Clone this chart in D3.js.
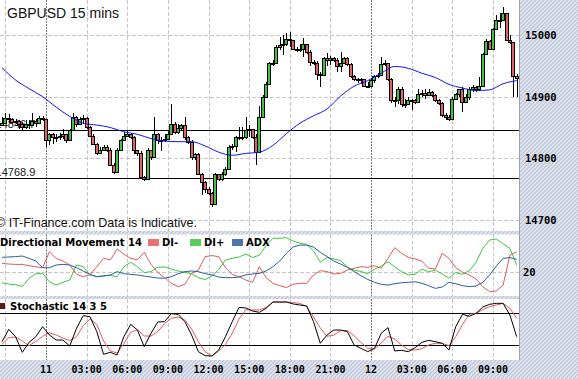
<!DOCTYPE html>
<html>
<head>
<meta charset="utf-8">
<script src="https://cdn.jsdelivr.net/npm/d3@7"></script>
<style>
  body { margin: 0; background: #fff; }
  svg { display: block; }
</style>
</head>
<body>
<svg id="chart" width="578" height="379"></svg>
<script>
// 15 minute bars, first bar at 20:45 on the 10th
const startTime = Date.UTC(2010, 4, 10, 20, 45);
const barMs = 15 * 60 * 1000;
const firstOpen = 14854;

const closes = [14857,14866,14863,14859,14861,14855,14851,14856,14854,14861,14857,14866,14864,
  14829,14840,14834,14835,14836,14840,14829,14846,14867,14855,14863,14866,14851,14837,14824,14808,14813,14818,14813,14790,
  14778,14814,14829,14837,14840,14835,14813,14809,14770,14767,14813,14802,14840,14829,14829,14832,14840,14855,14843,14850,
  14854,14834,14827,14802,14807,14775,14762,14751,14743,14726,14774,14767,14774,14783,14818,14820,14835,14834,14835,14846,
  14847,14835,14810,14867,
  14900,14921,14954,14955,14981,14984,14985,14993,14992,14977,14976,14977,14985,14973,14957,14955,14937,14935,14962,14960,
  14962,14959,14949,14954,14962,14953,14933,14928,14927,14928,14917,14917,14927,14933,14935,14953,14954,14928,14895,14895,
  14913,14888,14888,14895,14894,14892,14905,14906,14902,14908,14902,14895,14889,14870,14867,14863,14897,14904,14912,14892,
  14899,14912,14915,14912,14917,14969,14991,14978,15009,15025,15024,15035,14992,14989,14933,14931];

const highs = [14867,14873,14872,14866,14864,14862,14859,14862,14862,14873,14864,14868,14868,
  14861,14841,14841,14840,14841,14847,14840,14847,14873,14868,14867,14870,14867,14852,14840,14825,14818,14821,14821,14816,
  14792,14816,14832,14843,14846,14841,14837,14814,14812,14772,14816,14813,14867,14841,14835,14840,14846,14888,14859,14856,
  14856,14867,14837,14829,14809,14809,14776,14764,14753,14745,14776,14775,14778,14786,14821,14823,14837,14851,14851,14867,
  14854,14840,14840,14885,
  14902,14924,14957,14959,14984,14996,15000,15003,15005,14991,14981,14986,14995,14986,14975,14959,14958,14940,14964,14971,
  14966,14964,14962,14973,14965,14964,14954,14935,14931,14931,14928,14924,14931,14935,14938,14965,14959,14955,14930,14900,
  14916,14915,14897,14899,14897,14897,14912,14911,14912,14912,14909,14905,14897,14892,14873,14870,14900,14906,14913,14915,
  14905,14916,14919,14917,14932,14971,14993,14992,15011,15033,15035,15046,15036,15000,14989,14937];

const lows = [14852,14855,14857,14855,14856,14848,14846,14848,14848,14852,14851,14856,14861,
  14818,14821,14823,14827,14829,14832,14825,14828,14844,14851,14854,14855,14848,14835,14821,14805,14807,14812,14810,14789,
  14775,14776,14813,14828,14836,14832,14807,14803,14767,14764,14765,14797,14801,14823,14812,14827,14829,14840,14840,14840,
  14844,14830,14823,14798,14797,14774,14740,14743,14740,14721,14724,14764,14764,14771,14782,14813,14810,14830,14829,14832,
  14834,14832,14789,14810,
  14870,14899,14920,14950,14953,14976,14967,14982,14981,14975,14973,14973,14965,14970,14949,14951,14927,14916,14933,14949,
  14951,14957,14940,14940,14953,14950,14931,14926,14922,14921,14915,14915,14921,14922,14930,14933,14949,14926,14889,14883,
  14888,14883,14881,14886,14878,14888,14889,14900,14897,14901,14900,14892,14886,14867,14862,14861,14862,14894,14899,14875,
  14889,14894,14908,14908,14909,14915,14967,14977,14977,15008,15011,15023,14991,14986,14900,14900];

// moving average, one value per hour (every 4th bar)
const maValues = [14947,14927,14913,14900,14883,14868,14857,14854,14850,14843,14839,14832,14828,14827,14827,14820,
  14810,14805,14808,14810,14821,14840,14857,14869,14880,14901,14917,14926,14938,14949,14946,14938,14931,14920,
  14914,14910,14911,14921,14926];

// directional movement 14, one value every 2nd bar
const diMinus = [24.4,24.1,23.9,23.9,23.2,22.7,22.2,30.4,27.0,25.6,23.6,18.8,17.6,18.5,22.7,27.0,26.2,31.8,29.1,27.0,
  26.3,30.1,23.9,19.8,17.1,14.2,12.5,13.7,19.3,21.0,27.9,28.4,27.9,22.2,18.8,17.6,15.9,14.7,22.7,17.1,14.2,13.0,12.0,
  13.7,14.2,14.2,18.5,20.7,20.2,19.0,19.3,21.0,21.9,22.7,22.4,23.2,21.9,27.0,32.5,29.6,27.5,26.7,25.6,21.9,21.5,29.6,
  27.0,22.2,19.8,18.5,16.4,12.5,9.9,10.3,13.3,28.7,30.4];
const diPlus = [14.5,13.8,13.5,12.6,16.8,19.1,19.3,15.0,13.3,14.7,15.9,23.6,22.7,18.5,17.6,18.1,18.3,17.6,22.7,25.0,
  22.7,19.7,20.2,22.4,22.6,21.5,20.5,19.8,19.1,17.1,16.1,18.1,21.2,26.2,27.0,27.7,29.2,27.4,28.7,33.5,37.3,37.3,37.6,
  35.9,34.7,34.2,30.8,25.0,27.4,26.7,25.8,22.6,20.9,20.3,19.1,21.4,23.1,25.3,22.6,20.2,18.5,18.8,21.4,20.2,20.9,19.0,
  16.8,19.7,18.8,20.7,25.0,32.1,36.4,36.9,34.5,32.1,23.6];
const adx = [27.5,27.7,27.9,28.2,27.0,25.6,22.2,22.2,23.6,23.9,23.6,22.2,20.5,18.8,17.6,17.9,18.5,20.2,19.1,18.8,
  18.5,17.9,17.4,16.9,16.8,17.6,19.1,20.2,20.5,20.2,19.1,18.5,17.4,17.1,17.1,17.4,18.5,19.0,19.3,20.5,22.7,25.6,29.6,
  32.8,33.8,33.8,32.8,30.1,27.9,25.6,24.1,22.4,20.2,18.1,16.2,14.7,13.7,13.3,14.0,14.5,14.7,15.0,14.2,13.0,11.6,12.3,
  14.7,14.0,13.0,12.5,12.8,14.7,18.5,23.1,27.0,27.4,26.5];

// stochastic 14 3 5, one value every 2nd bar
const stochK = [26.5,49.4,35.8,6.8,25.3,35.8,54.3,38.9,29.6,29.6,18.5,51.2,74.7,72.8,45.1,3.1,6.8,1.9,35.8,58.6,
  48.1,17.3,42.0,63.0,63.6,78.4,77.2,63.6,38.9,8.0,0.6,0,11.1,35.8,63.6,90.1,88.9,83.3,80.9,88.3,100,100,100,
  96.3,94.4,92.6,63.6,23.5,38.9,48.1,48.1,45.1,20.4,14.2,8.0,14.2,42.0,52.5,9.3,10.5,8.0,15.4,25.3,29.0,26.5,23.5,
  11.1,54.3,77.2,73.5,79.0,90.7,95.7,97.5,97.5,75.9,35.8];
const stochD = [21.6,34.0,35.2,27.8,19.1,27.2,36.4,43.2,38.9,33.3,28.4,35.8,56.2,68.5,58.6,27.8,9.3,5.6,22.8,43.8,
  48.8,37.0,37.0,45.1,59.9,69.8,72.2,66.7,50.0,26.5,8.0,0,9.3,21.6,42.0,68.5,85.8,85.2,85.2,90.1,100,100,100,
  98.8,97.5,91.4,72.2,51.9,36.4,38.9,46.9,47.5,37.0,25.3,14.2,13.0,24.1,36.4,31.5,20.4,11.7,11.1,13.6,20.4,23.5,23.5,
  19.1,35.8,58.6,77.2,79.0,85.8,91.4,94.4,97.5,88.3,69.8];

const priceTicks = [14700, 14800, 14900, 15000];
const priceLines = [14846.7, 14768.9];
const dmTicks = [20];
const stochLevels = [20, 80];

const plotRight = 519;
const panelMain = {top: 0, bottom: 231};
const panelDM = {top: 234.5, bottom: 296};
const panelStoch = {top: 299, bottom: 360};

const svg = d3.select('#chart');
const px = v => Math.round(v) + 0.5;

// scales
const x = d3.scaleUtc()
  .domain([new Date(startTime), new Date(startTime + 152 * barMs)])
  .range([2, 2 + 152 * 3.386]);
const yPrice = d3.scaleLinear().domain([14700, 15000]).range([220, 35]);
const yDM = d3.scaleLinear().domain([20, 40]).range([272, 233]);
const yStoch = d3.scaleLinear().domain([0, 100]).range([356, 302]);

const bars = closes.map((c, i) => {
  const open = i ? closes[i - 1] : firstOpen;
  return {
    time: new Date(startTime + i * barMs),
    open: open,
    close: c,
    high: Math.max(highs[i], open, c),
    low: Math.min(lows[i], open, c)
  };
});
const hourly = maValues.map((v, i) => ({time: new Date(startTime + i * 4 * barMs), value: v}));
const every2 = arr => arr.map((v, i) => ({time: new Date(startTime + i * 2 * barMs), value: v}));

// defs: hatch pattern + clips
const defs = svg.append('defs');
const hatch = defs.append('pattern')
  .attr('id', 'hatch')
  .attr('width', 4).attr('height', 4)
  .attr('patternUnits', 'userSpaceOnUse');
hatch.append('rect').attr('width', 4).attr('height', 4).attr('fill', '#e2e5ee');
hatch.append('path')
  .attr('d', 'M-1,1 l2,-2 M0,4 l4,-4 M3,5 l2,-2')
  .attr('stroke', '#b8c1d6')
  .attr('stroke-width', 1.2);

[['clipMain', panelMain], ['clipDM', panelDM], ['clipStoch', panelStoch]].forEach(([id, p]) => {
  defs.append('clipPath').attr('id', id)
    .append('rect')
    .attr('x', 0).attr('y', p.top)
    .attr('width', plotRight).attr('height', p.bottom - p.top);
});

// background
svg.append('rect').attr('width', 578).attr('height', 379).attr('fill', '#fff');
svg.append('rect').attr('x', plotRight).attr('y', 0).attr('width', 578 - plotRight).attr('height', 379).attr('fill', 'url(#hatch)');
svg.append('rect').attr('x', 0).attr('y', panelStoch.bottom).attr('width', 578).attr('height', 379 - panelStoch.bottom).attr('fill', 'url(#hatch)');
svg.append('rect').attr('x', 0).attr('y', panelMain.bottom).attr('width', plotRight).attr('height', panelDM.top - panelMain.bottom).attr('fill', 'url(#hatch)');
svg.append('rect').attr('x', 0).attr('y', panelDM.bottom).attr('width', plotRight).attr('height', panelStoch.top - panelDM.bottom).attr('fill', 'url(#hatch)');
svg.append('line')
  .attr('x1', plotRight + 0.5).attr('x2', plotRight + 0.5)
  .attr('y1', 0).attr('y2', panelStoch.bottom)
  .attr('stroke', '#9aa0ac');

// vertical grid, every 3 hours
const hourTicks = x.ticks(d3.utcHour.every(3));
const isDay = d => d.getUTCHours() === 0;

function gridX(p) {
  svg.append('g')
    .selectAll('line')
    .data(hourTicks)
    .join('line')
      .attr('x1', d => px(x(d))).attr('x2', d => px(x(d)))
      .attr('y1', p.top).attr('y2', p.bottom)
      .attr('stroke', d => isDay(d) ? '#777' : '#c6c6c6')
      .attr('stroke-dasharray', d => isDay(d) ? '2,1' : '4,2');
}
gridX(panelMain);
gridX(panelDM);
gridX(panelStoch);

function gridY(values, scale, colour, dash) {
  svg.append('g')
    .selectAll('line')
    .data(values)
    .join('line')
      .attr('x1', 0).attr('x2', plotRight)
      .attr('y1', d => px(scale(d))).attr('y2', d => px(scale(d)))
      .attr('stroke', colour)
      .attr('stroke-dasharray', dash);
}
gridY(priceTicks, yPrice, '#c6c6c6', '4,2');
gridY(dmTicks, yDM, '#c6c6c6', '4,2');
gridY(stochLevels, yStoch, '#000', null);

// ---- price panel ----
const mainArea = svg.append('g').attr('clip-path', 'url(#clipMain)');

mainArea.selectAll('text.lvl')
  .data(priceLines)
  .join('text')
    .attr('class', 'lvl')
    .attr('x', -4.4)
    .attr('y', d => Math.round(yPrice(d)) - 2)
    .style('font-family', 'Liberation Sans, Arial, sans-serif')
    .style('font-size', '11px')
    .attr('fill', '#222')
    .text(d => d.toFixed(1));

mainArea.selectAll('line.lvl')
  .data(priceLines)
  .join('line')
    .attr('class', 'lvl')
    .attr('x1', 0).attr('x2', plotRight)
    .attr('y1', d => px(yPrice(d))).attr('y2', d => px(yPrice(d)))
    .attr('stroke', '#000');

const candles = mainArea.append('g')
  .attr('shape-rendering', 'crispEdges')
  .selectAll('g')
  .data(bars)
  .join('g');

candles.append('line')
  .attr('x1', d => Math.round(x(d.time)) + 0.5)
  .attr('x2', d => Math.round(x(d.time)) + 0.5)
  .attr('y1', d => Math.round(yPrice(d.high)))
  .attr('y2', d => Math.round(yPrice(d.low)))
  .attr('stroke', '#000');

candles.append('rect')
  .attr('x', d => Math.round(x(d.time)) - 1.5)
  .attr('width', 3)
  .attr('y', d => Math.round(yPrice(Math.max(d.open, d.close))) + 0.5)
  .attr('height', d => Math.max(1, Math.round(yPrice(Math.min(d.open, d.close))) - Math.round(yPrice(Math.max(d.open, d.close)))))
  .attr('fill', d => d.close >= d.open ? '#3fc43f' : '#e06464')
  .attr('stroke', '#000');

const maLine = d3.line()
  .x(d => x(d.time))
  .y(d => yPrice(d.value))
  .curve(d3.curveMonotoneX);

mainArea.append('path')
  .datum(hourly)
  .attr('d', maLine)
  .attr('fill', 'none')
  .attr('stroke', '#0a14ff')
  .attr('stroke-width', 1);

svg.append('text')
  .attr('x', 7).attr('y', 18)
  .style('font-family', 'Liberation Sans, Arial, sans-serif')
  .style('font-size', '14px')
  .attr('fill', '#111')
  .text('GBPUSD 15 mins');

svg.append('text')
  .attr('x', -4).attr('y', 227)
  .style('font-family', 'Liberation Sans, Arial, sans-serif')
  .style('font-size', '12.5px')
  .attr('fill', '#111')
  .text('\u00a9 IT-Finance.com Data is Indicative.');

const axisFont = 'DejaVu Sans Mono, monospace';
svg.append('g')
  .selectAll('text')
  .data(priceTicks)
  .join('text')
    .attr('x', 525)
    .attr('y', d => yPrice(d) + 4)
    .style('font-family', axisFont)
    .style('font-size', '10.5px')
    .style('font-weight', 'bold')
    .attr('fill', '#000')
    .text(d => d);

// ---- directional movement panel ----
const dmArea = svg.append('g').attr('clip-path', 'url(#clipDM)');
const dmLine = d3.line().x(d => x(d.time)).y(d => yDM(d.value));
const dmSeries = [
  {name: 'DI-', values: diMinus, colour: '#e05a5a'},
  {name: 'DI+', values: diPlus, colour: '#3cc43c'},
  {name: 'ADX', values: adx, colour: '#2b5d9c'}
];

dmArea.selectAll('path')
  .data(dmSeries)
  .join('path')
    .attr('d', d => dmLine(every2(d.values)))
    .attr('fill', 'none')
    .attr('stroke', d => d.colour)
    .attr('stroke-width', 1);

const labelFont = 'DejaVu Sans, Verdana, sans-serif';
svg.append('text')
  .attr('x', 0).attr('y', 246)
  .style('font-family', labelFont)
  .style('font-size', '10px')
  .style('font-weight', 'bold')
  .attr('fill', '#000')
  .text('Directional Movement 14');

const legendX = [148, 190, 232];
const legend = svg.append('g')
  .selectAll('g')
  .data(dmSeries)
  .join('g')
    .attr('transform', (d, i) => `translate(${legendX[i]}, 239)`);
legend.append('rect')
  .attr('width', 11).attr('height', 7)
  .attr('fill', d => d.colour)
  .attr('opacity', 0.85);
legend.append('text')
  .attr('x', 14).attr('y', 7)
  .style('font-family', labelFont)
  .style('font-size', '10px')
  .style('font-weight', 'bold')
  .attr('fill', '#000')
  .text(d => d.name);

svg.append('g')
  .selectAll('text')
  .data(dmTicks)
  .join('text')
    .attr('x', 523)
    .attr('y', d => yDM(d) + 4)
    .style('font-family', axisFont)
    .style('font-size', '10.5px')
    .style('font-weight', 'bold')
    .attr('fill', '#000')
    .text(d => d);

// ---- stochastic panel ----
const stochArea = svg.append('g').attr('clip-path', 'url(#clipStoch)');
const stochLine = d3.line().x(d => x(d.time)).y(d => yStoch(d.value));

stochArea.append('path')
  .datum(every2(stochD))
  .attr('d', stochLine)
  .attr('fill', 'none')
  .attr('stroke', '#e05a5a');

stochArea.append('path')
  .datum(every2(stochK))
  .attr('d', stochLine)
  .attr('fill', 'none')
  .attr('stroke', '#000');

svg.append('rect')
  .attr('x', -5).attr('y', 303)
  .attr('width', 10).attr('height', 6)
  .attr('fill', '#5a1a1a');
svg.append('text')
  .attr('x', 10).attr('y', 310)
  .style('font-family', labelFont)
  .style('font-size', '10px')
  .style('font-weight', 'bold')
  .attr('fill', '#000')
  .text('Stochastic 14 3 5');

// ---- time labels ----
const fmtHour = d3.utcFormat('%H:%M');
svg.append('g')
  .selectAll('text')
  .data(hourTicks.filter(d => x(d) > 20))
  .join('text')
    .attr('x', d => x(d))
    .attr('y', 373)
    .attr('text-anchor', 'middle')
    .style('font-family', axisFont)
    .style('font-size', '10px')
    .style('font-weight', 'bold')
    .attr('fill', '#000')
    .text(d => isDay(d) ? String(d.getUTCDate()) : fmtHour(d));
</script>
</body>
</html>
